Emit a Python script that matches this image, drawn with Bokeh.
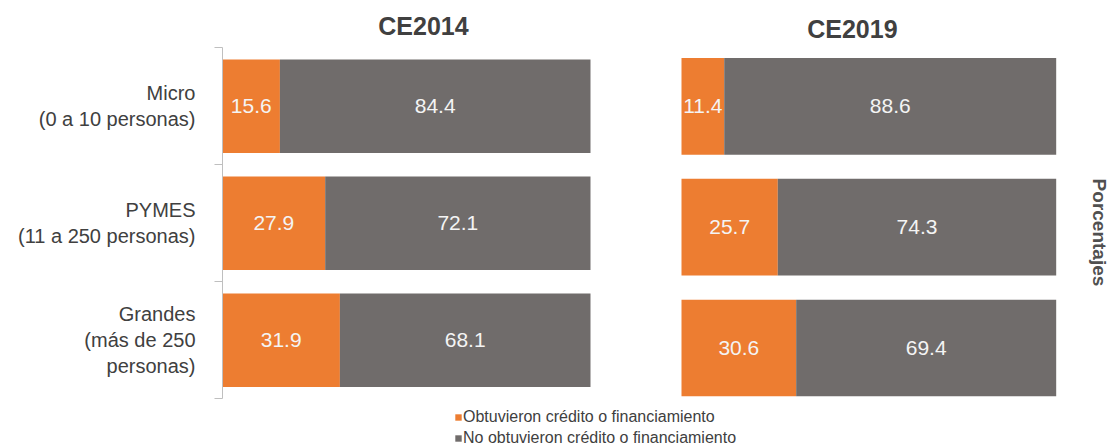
import math
import numpy as np
from bokeh.plotting import figure
from bokeh.models import ColumnDataSource, Range1d, FixedTicker, Label
from bokeh.core.properties import value
from bokeh.embed import file_html
from bokeh.resources import INLINE

# ---- data ----
categories = ["Micro\n(0 a 10 personas)", "PYMES\n(11 a 250 personas)", "Grandes\n(más de 250\npersonas)"]
panels = ["CE2014", "CE2019"]
obtuvieron_2014 = [15.6, 27.9, 31.9]
no_obtuvieron_2014 = [84.4, 72.1, 68.1]
obtuvieron_2019 = [11.4, 25.7, 30.6]
no_obtuvieron_2019 = [88.6, 74.3, 69.4]
series_names = ["Obtuvieron crédito o financiamiento", "No obtuvieron crédito o financiamiento"]
axis_title = "Porcentajes"

ORANGE = "#ED7D31"
GRAY = "#706C6B"
TEXT = "#404040"
FONT = "Liberation Sans"

p = figure(width=1111, height=448, output_backend="svg", toolbar_location=None,
           x_range=Range1d(0, 241.58), y_range=Range1d(3.4248, -0.4043),
           min_border_left=222, min_border_right=0, min_border_top=0, min_border_bottom=0,
           x_axis_location=None, outline_line_color=None)
p.extra_x_ranges = {"r": Range1d(-122.5, 114.76)}
p.extra_y_ranges = {"r": Range1d(3.3324, -0.3762)}
p.grid.visible = False

ys = list(np.arange(len(categories)) + 0.5)

def panel(obt, no, height, rname=None, legend=False):
    src = ColumnDataSource(dict(y=ys, obt=obt, no=no))
    kw = {}
    if rname:
        kw = dict(x_range_name=rname, y_range_name=rname)
    bkw = dict(kw)
    if legend:
        bkw["legend_label"] = series_names
    p.hbar_stack(["obt", "no"], y="y", height=height, color=[ORANGE, GRAY],
                 line_color=None, source=src, **bkw)
    o = np.array(obt); n = np.array(no)
    lab = ColumnDataSource(dict(
        x=list(o / 2) + list(o + n / 2),
        y=ys + ys,
        t=[f"{v:.1f}" for v in obt] + [f"{v:.1f}" for v in no]))
    p.text(x="x", y="y", text="t", source=lab, text_align="center", text_baseline="middle",
           text_font=value(FONT), text_font_size="21px", text_color="#F4F4F4", **kw)

panel(obtuvieron_2014, no_obtuvieron_2014, 0.80, legend=True)
panel(obtuvieron_2019, no_obtuvieron_2019, 0.80, rname="r")

# left category axis
ax = p.yaxis[0]
ax.bounds = (0, len(categories))
ax.ticker = FixedTicker(ticks=ys, minor_ticks=list(range(len(categories) + 1)))
ax.major_label_overrides = {float(y): c for y, c in zip(ys, categories)}
ax.major_tick_out = 0
ax.major_tick_in = 0
ax.minor_tick_out = 8
ax.minor_tick_in = 0
ax.minor_tick_line_color = "#BFBFBF"
ax.axis_line_color = "#BFBFBF"
ax.major_label_standoff = 19
ax.major_label_text_font = FONT
ax.major_label_text_font_size = "20px"
ax.major_label_text_color = TEXT
ax.major_label_text_line_height = 1.18

# panel titles
p.add_layout(Label(x=54.6, y=-0.1846, text=panels[0], text_align="center", text_baseline="middle",
                   text_font=FONT, text_font_size="25px", text_font_style="bold", text_color=TEXT))
p.add_layout(Label(x=45.6, y=-0.1387, x_range_name="r", y_range_name="r", text=panels[1],
                   text_align="center", text_baseline="middle",
                   text_font=FONT, text_font_size="25px", text_font_style="bold", text_color=TEXT))
p.add_layout(Label(x=111.5, y=1.544, x_range_name="r", y_range_name="r", text=axis_title,
                   angle=-math.pi / 2, text_align="center", text_baseline="middle",
                   text_font=FONT, text_font_size="19px", text_font_style="bold", text_color="#505050"))

lg = p.legend[0]
lg.location = (232, 1)
lg.orientation = "vertical"
lg.background_fill_alpha = 0
lg.border_line_color = None
lg.padding = 0
lg.margin = 0
lg.spacing = 3
lg.label_height = 18
lg.glyph_width = 8
lg.glyph_height = 8
lg.label_standoff = 1
lg.label_text_font = FONT
lg.label_text_font_size = "16px"
lg.label_text_color = TEXT

open("out.html", "w").write(file_html(p, INLINE))
